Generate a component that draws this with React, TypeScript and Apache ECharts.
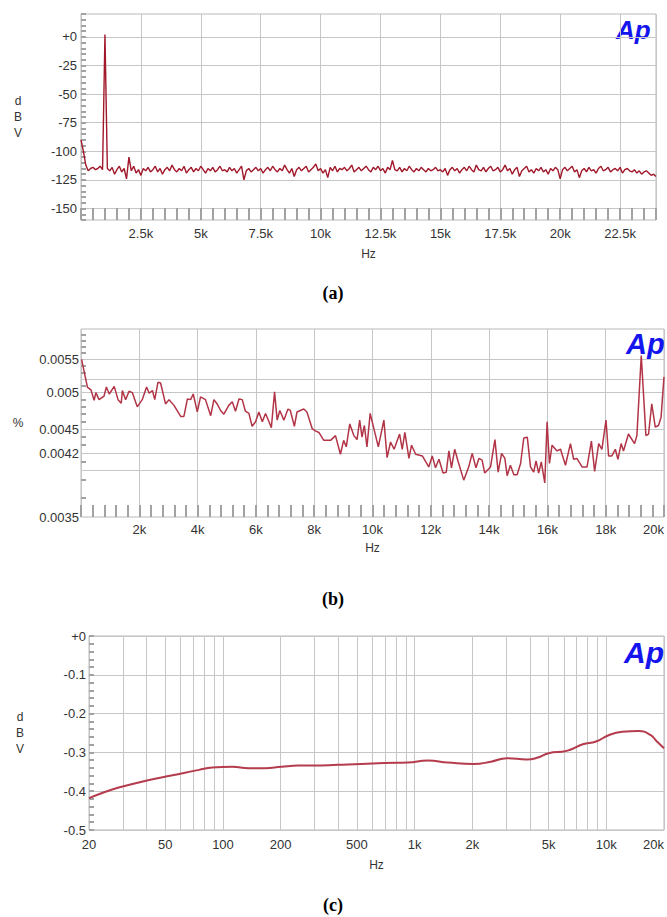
import React, { useEffect, useRef } from "react";
import * as echarts from "echarts";

// ---------- (a) FFT spectrum, dBV vs Hz (100 Hz bins, 0 .. 24 kHz) ----------
const A_BIN_HZ = 100;
const aLevels = [
  -90, -100, -112, -117, -115, -114, -116, -115, -113, -116,
  2, -115, -117, -114, -120, -116, -113, -118, -115, -124,
  -105, -117, -113, -119, -116, -121, -115, -117, -114, -118,
  -116, -113, -118, -115, -120, -116, -114, -117, -112, -116,
  -118, -115, -117, -113, -119, -116, -114, -118, -115, -117,
  -113, -116, -119, -115, -117, -114, -118, -116, -113, -117,
  -116, -118, -114, -117, -115, -119, -116, -113, -125, -117,
  -115, -118, -116, -114, -117, -115, -119, -116, -114, -117,
  -113, -116, -118, -115, -117, -112, -116, -119, -115, -122,
  -116, -114, -117, -115, -113, -118, -116, -114, -111, -117,
  -115, -119, -116, -123, -114, -117, -113, -118, -115, -116,
  -114, -117, -115, -112, -118, -116, -114, -117, -115, -113,
  -116, -118, -114, -116, -113, -117, -115, -119, -114, -116,
  -108, -116, -117, -114, -118, -115, -117, -113, -116, -118,
  -115, -117, -114, -116, -118, -115, -117, -116, -114, -117,
  -116, -118, -115, -121, -116, -114, -117, -115, -119, -116,
  -114, -117, -113, -116, -118, -112, -116, -117, -114, -118,
  -115, -113, -117, -116, -114, -118, -116, -112, -117, -115,
  -120, -116, -114, -122, -117, -115, -113, -118, -116, -119,
  -115, -117, -114, -118, -116, -120, -115, -117, -114, -116,
  -124, -116, -114, -117, -115, -113, -118, -116, -123, -117,
  -115, -118, -114, -117, -116, -119, -115, -113, -117, -116,
  -114, -118, -116, -115, -117, -114, -119, -116, -115, -117,
  -118, -116, -119, -117, -120, -118, -117, -119, -121, -120, -122,
];
const aYLabels = [-150, -125, -100, -75, -50, -25, 0];

// ---------- (b) THD+N %, vs Hz ----------
const bFreqK = [
  0.02, 0.22, 0.34, 0.45, 0.51, 0.62, 0.79, 0.87, 0.97, 1.14, 1.27, 1.38, 1.42, 1.53, 1.65, 1.76, 1.93,
  2.1, 2.25, 2.34, 2.45, 2.53, 2.64, 2.73, 2.9, 3.02, 3.19, 3.42, 3.53, 3.65, 3.76, 3.85, 3.99,
  4.1, 4.27, 4.45, 4.56, 4.67, 4.79, 4.9, 5.07, 5.19, 5.3, 5.42, 5.53, 5.64, 5.76, 5.87, 5.99,
  6.1, 6.22, 6.33, 6.45, 6.53, 6.64, 6.73, 6.82, 6.96, 7.1, 7.18, 7.32, 7.41, 7.64, 7.75, 7.93,
  8.04, 8.16, 8.33, 8.56, 8.73, 8.9, 9.01, 9.1, 9.22, 9.36, 9.47, 9.56, 9.64, 9.72, 9.81, 9.92,
  10.2, 10.39, 10.5, 10.62, 10.74, 10.93, 11.02, 11.11, 11.25, 11.34, 11.48, 11.71, 11.93,
  12.05, 12.16, 12.28, 12.42, 12.53, 12.62, 12.71, 12.82, 12.94, 13.13, 13.3, 13.42, 13.55, 13.65, 13.76, 13.85,
  14.05, 14.2, 14.31, 14.43, 14.54, 14.62, 14.73, 14.85, 14.96, 15.08, 15.19, 15.31, 15.42, 15.53, 15.61, 15.7, 15.79, 15.91, 15.99,
  16.07, 16.16, 16.33, 16.45, 16.62, 16.79, 16.9, 17.01, 17.19, 17.36, 17.51, 17.62, 17.76, 17.87,
  18.01, 18.1, 18.21, 18.33, 18.42, 18.53, 18.61, 18.78, 18.99, 19.07, 19.22, 19.38, 19.47, 19.58, 19.7, 19.81, 19.9, 20.0,
];
const bThd = [
  0.0055, 0.00508, 0.00504, 0.00489, 0.005, 0.0049, 0.00495, 0.00508, 0.00498, 0.00509, 0.0049, 0.00485, 0.00503, 0.0049, 0.00502, 0.005, 0.0048,
  0.0049, 0.00508, 0.00499, 0.00503, 0.0049, 0.00515, 0.00514, 0.00484, 0.0049, 0.00482, 0.00467, 0.00467, 0.00491, 0.0049, 0.00498, 0.00473,
  0.00494, 0.0049, 0.00468, 0.0049, 0.00484, 0.00475, 0.0047, 0.00482, 0.00487, 0.00474, 0.00491, 0.0049, 0.00474, 0.00471, 0.00454, 0.0046,
  0.00473, 0.0046, 0.00471, 0.0046, 0.00452, 0.00501, 0.00462, 0.00475, 0.00462, 0.00477, 0.00475, 0.00454, 0.00473, 0.00477, 0.00473, 0.00451,
  0.00448, 0.00446, 0.00436, 0.00436, 0.00442, 0.00419, 0.00436, 0.00428, 0.00457, 0.00442, 0.00437, 0.00462, 0.0044, 0.00455, 0.00428, 0.00471,
  0.00428, 0.00462, 0.00415, 0.00434, 0.00425, 0.00444, 0.00425, 0.00446, 0.00414, 0.0043, 0.00419, 0.00417, 0.00404,
  0.00417, 0.00403, 0.00413, 0.00397, 0.00398, 0.00423, 0.00403, 0.00425, 0.0041, 0.00389, 0.00404, 0.0042, 0.00403, 0.00414, 0.00412, 0.00397,
  0.00404, 0.00437, 0.00398, 0.0042, 0.00414, 0.00394, 0.00406, 0.00395, 0.00395, 0.00408, 0.00439, 0.0044, 0.00404, 0.00398, 0.00411, 0.00397, 0.0041, 0.00386, 0.0046,
  0.00408, 0.0043, 0.00423, 0.00425, 0.00406, 0.00432, 0.00413, 0.00414, 0.00404, 0.00404, 0.00435, 0.00399, 0.00432, 0.00425,
  0.00462, 0.00417, 0.00417, 0.00425, 0.00413, 0.00432, 0.00423, 0.00444, 0.00432, 0.00442, 0.00556, 0.00442, 0.00444, 0.00484, 0.00453, 0.00455, 0.00466, 0.00523,
];
const bYLabels = [0.0035, 0.0042, 0.0045, 0.005, 0.0055];
const bYGrid = [0.004, 0.0042, 0.0045, 0.005, 0.0052, 0.0055];
const bYMinor = [
  0.0037, 0.0039, 0.0041, 0.0043, 0.0044, 0.0046, 0.0047, 0.0048, 0.0049, 0.0051, 0.0053, 0.0054,
  0.0056, 0.0057, 0.0058, 0.0059,
];

// ---------- (c) frequency response, dBV vs Hz (log) ----------
const cFreq = [
  20, 23.6, 28.9, 39.6, 54.6, 75, 88, 112, 136, 166, 202, 247, 302, 399, 529, 696, 920, 1170, 1490,
  2030, 2500, 3030, 3850, 4340, 5000, 6210, 7540, 8840, 10350, 12120, 14740, 17000, 18370, 20000,
];
const cLevel = [
  -0.418, -0.404, -0.39, -0.373, -0.359, -0.345, -0.339, -0.337, -0.341, -0.341, -0.337, -0.334, -0.334,
  -0.332, -0.33, -0.327, -0.326, -0.321, -0.326, -0.33, -0.324, -0.315, -0.318, -0.314, -0.302, -0.296,
  -0.279, -0.272, -0.255, -0.247, -0.245, -0.255, -0.272, -0.289,
];
const cXGrid = [
  20, 30, 40, 50, 60, 70, 80, 90, 100, 200, 300, 400, 500, 600, 700, 800, 900, 1000, 2000, 3000, 4000,
  5000, 6000, 7000, 8000, 9000, 10000, 20000,
];
const cXLabels = [20, 50, 100, 200, 500, 1000, 2000, 5000, 10000, 20000];

const FONT = "'Liberation Sans', Arial, sans-serif";
const GRID_C = "#c6c6c6";
const FRAME_C = "#b8b8b8";
const TICK_C = "#a2a2a2";
const LABEL = { fontFamily: FONT, fontSize: 13, color: "#333" };

const fmtK = (v: number) => (v >= 1000 ? `${Math.round(v / 100) / 10}k` : `${Math.round(v)}`);

function minorAxis(gridIndex: number, extra: any, length: number, customTicks?: number[]) {
  const tick: any = { show: true, inside: true, length, lineStyle: { color: TICK_C, width: 2 } };
  if (customTicks) tick.customValues = customTicks;
  return {
    gridIndex,
    ...extra,
    axisLine: { show: false, onZero: false },
    axisLabel: { show: false },
    splitLine: { show: false },
    axisTick: tick,
  };
}

export default function App() {
  const ref = useRef<HTMLDivElement>(null);
  useEffect(() => {
    if (!ref.current) return;
    const chart = echarts.init(ref.current, undefined, { renderer: "svg" });

    const aData = aLevels.map((v, i) => [i * A_BIN_HZ, v]);
    const bData = bFreqK.map((f, i) => [f * 1000, bThd[i]]);
    const cData = cFreq.map((f, i) => [f, cLevel[i]]);

    const yName = (name: string, gap: number) => ({
      name,
      nameLocation: "middle",
      nameRotate: 0,
      nameGap: gap,
      nameTextStyle: { ...LABEL, fontSize: 12, align: "center", verticalAlign: "middle", lineHeight: 16 },
    });
    const xName = (gap: number) => ({
      name: "Hz",
      nameLocation: "middle",
      nameGap: gap,
      nameTextStyle: { ...LABEL, fontSize: 12 },
    });
    const noLine = { show: false, onZero: false };

    const option: any = {
      animation: false,
      backgroundColor: "#ffffff",
      grid: [
        { left: 81, top: 14, width: 575, height: 206, show: true, borderColor: FRAME_C, borderWidth: 1 },
        { left: 81, top: 329, width: 584, height: 188, show: true, borderColor: FRAME_C, borderWidth: 1 },
        { left: 89, top: 636, width: 578, height: 194, show: true, borderColor: FRAME_C, borderWidth: 1 },
      ],
      xAxis: [
        {
          gridIndex: 0, type: "value", position: "bottom", min: 0, max: 24000, interval: 2500,
          axisLine: noLine, axisTick: { show: false },
          axisLabel: { ...LABEL, margin: 7, formatter: (v: number) => (v > 0 && v < 24000 && v % 2500 === 0 ? fmtK(v) : "") },
          splitLine: { show: true, lineStyle: { color: GRID_C, width: 1 } },
          ...xName(28),
        },
        minorAxis(0, { type: "value", position: "bottom", min: 0, max: 24000, interval: 500 }, 12),
        {
          gridIndex: 1, type: "value", position: "bottom", min: 0, max: 20000, interval: 2000,
          axisLine: noLine, axisTick: { show: false },
          axisLabel: { ...LABEL, margin: 6, alignMaxLabel: "right", formatter: (v: number) => (v > 0 ? fmtK(v) : "") },
          splitLine: { show: true, lineStyle: { color: GRID_C, width: 1 } },
          ...xName(25),
        },
        minorAxis(1, { type: "value", position: "bottom", min: 0, max: 20000, interval: 400 }, 12),
        {
          gridIndex: 2, type: "log", logBase: 10, position: "bottom", min: 20, max: 20000,
          axisLine: noLine,
          axisTick: { show: false, customValues: cXGrid },
          axisLabel: { ...LABEL, margin: 8, customValues: cXLabels, alignMaxLabel: "right", formatter: (v: number) => fmtK(v) },
          splitLine: { show: true, lineStyle: { color: GRID_C, width: 1 } },
          ...xName(29),
        },
      ],
      yAxis: [
        {
          gridIndex: 0, type: "value", position: "left", min: -160, max: 20,
          axisLine: noLine,
          axisTick: { show: false, customValues: aYLabels },
          axisLabel: { ...LABEL, margin: 4, customValues: aYLabels, formatter: (v: number) => (v === 0 ? "+0" : `${v}`) },
          splitLine: { show: true, lineStyle: { color: GRID_C, width: 1 } },
          ...yName("d\nB\nV", 63),
        },
        minorAxis(0, { type: "value", position: "left", min: -160, max: 20, interval: 5 }, 5),
        {
          gridIndex: 1, type: "log", logBase: 10, position: "left", min: 0.0035, max: 0.006,
          axisLine: noLine,
          axisTick: { show: false, customValues: bYGrid },
          axisLabel: {
            ...LABEL, margin: 2, customValues: bYLabels,
            formatter: (v: number) => `${Number(v.toPrecision(3))}`,
          },
          splitLine: { show: true, lineStyle: { color: GRID_C, width: 1 } },
          ...yName("%", 63),
        },
        minorAxis(1, { type: "log", logBase: 10, position: "left", min: 0.0035, max: 0.006 }, 5, bYMinor),
        {
          gridIndex: 2, type: "value", position: "left", min: -0.5, max: 0, interval: 0.1,
          axisLine: noLine, axisTick: { show: false },
          axisLabel: { ...LABEL, margin: 3, formatter: (v: number) => (Math.abs(v) < 1e-9 ? "+0" : v.toFixed(1)) },
          splitLine: { show: true, lineStyle: { color: GRID_C, width: 1 } },
          ...yName("d\nB\nV", 69),
        },
        minorAxis(2, { type: "value", position: "left", min: -0.5, max: 0, interval: 0.02 }, 5),
      ],
      series: [
        {
          type: "line", xAxisIndex: 0, yAxisIndex: 0, data: aData, symbol: "none",
          lineStyle: { color: "#a0182a", width: 1.4 }, silent: true,
        },
        {
          type: "line", xAxisIndex: 2, yAxisIndex: 2, data: bData, symbol: "none",
          lineStyle: { color: "#b23547", width: 1.5 }, silent: true,
        },
        {
          type: "line", xAxisIndex: 4, yAxisIndex: 4, data: cData, symbol: "none", smooth: true,
          lineStyle: { color: "#b43c4d", width: 2 }, silent: true,
        },
      ],
      graphic: [
        { type: "text", left: 616, top: 17, style: { text: "Ap", fill: "#1414ee", font: `italic bold 26px ${FONT}` } },
        { type: "text", left: 626, top: 329, style: { text: "Ap", fill: "#1414ee", font: `italic bold 29px ${FONT}` } },
        { type: "text", left: 624, top: 637, style: { text: "Ap", fill: "#1414ee", font: `italic bold 30px ${FONT}` } },
        { type: "text", x: 333, y: 293, style: { text: "(a)", fill: "#000", font: "bold 18px 'Liberation Serif', 'Times New Roman', serif", align: "center", verticalAlign: "middle" } },
        { type: "text", x: 333, y: 599, style: { text: "(b)", fill: "#000", font: "bold 18px 'Liberation Serif', 'Times New Roman', serif", align: "center", verticalAlign: "middle" } },
        { type: "text", x: 333, y: 905, style: { text: "(c)", fill: "#000", font: "bold 18px 'Liberation Serif', 'Times New Roman', serif", align: "center", verticalAlign: "middle" } },
      ],
    };
    chart.setOption(option);
    return () => chart.dispose();
  }, []);
  return <div ref={ref} style={{ position: "absolute", left: 0, top: 0, width: 667, height: 917, background: "#fff" }} />;
}
